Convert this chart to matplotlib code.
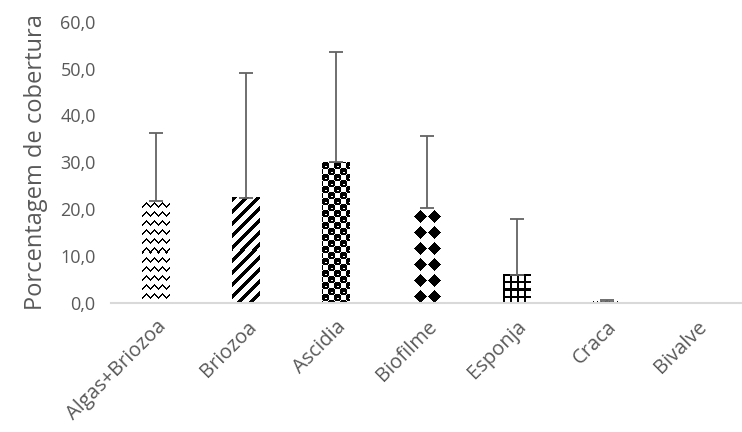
import numpy as np
import matplotlib
matplotlib.use("Agg")
import matplotlib.pyplot as plt

categorias = ["Algas+Briozoa", "Briozoa", "Ascidia", "Biofilme", "Esponja", "Craca", "Bivalve"]
medias = [21.8, 22.5, 30.0, 20.2, 6.0, 0.3, 0.0]
desvios = [14.5, 26.5, 23.5, 15.4, 11.9, 0.4, 0.0]
padroes = ["zigzag", "diagonal", "xadrez", "losango", "grade", "pontos", "pontos"]

cinza = "#595959"
plt.rcParams["font.family"] = ["Open Sans", "DejaVu Sans"]


# padroes de preenchimento (tipo Excel), 0 = preto, 1 = branco
def padrao(nome, h, w):
    yy, xx = np.mgrid[0:h, 0:w]
    img = np.ones((h, w))
    if nome == "zigzag":
        onda = np.abs((xx % 8) - 4)
        fase = (yy % 9) - onda
        img[(fase >= 2) & (fase < 4)] = 0
    elif nome == "diagonal":
        img[((xx + yy) % 12) < 5] = 0
    elif nome == "xadrez":
        # blocos pretos com cantos cortados e um traco branco
        for c in [(3, 3), (9, 9), (-3, 9), (9, -3), (15, 3), (3, 15)]:
            dx = (xx % 12) - c[0]
            dy = (yy % 12) - c[1]
            blob = (np.maximum(np.abs(dx), np.abs(dy)) <= 3.5) & (np.abs(dx) + np.abs(dy) <= 5.5)
            img[blob] = 0
            traco = blob & (dy == 1) & (np.abs(dx - 0.5) <= 1)
            img[traco] = 1
    elif nome == "losango":
        cx = np.abs((xx % 14) - 7)
        cy = np.abs((yy % 16) - 8)
        img[(cx + cy) <= 6.5] = 0
    elif nome == "grade":
        img[((xx % 7) < 2) | ((yy % 7) < 2)] = 0
    else:
        img[(xx % 4 == 0) & (yy % 2 == 0)] = 0
    return img


fig = plt.figure(figsize=(7.42, 4.32), dpi=100)
ax = fig.add_axes([0.1496, 0.2986, 0.8504, 0.6512])

x = np.arange(len(categorias))
barras = ax.bar(x, medias, width=0.31, color="none", edgecolor="none", zorder=2)

ax.errorbar(x, medias, yerr=[np.zeros(len(desvios)), desvios], fmt="none",
            ecolor="#636363", elinewidth=1.3, capsize=5, capthick=1.3, zorder=3)

ax.set_xlim(-0.5, len(categorias) - 0.5)
ax.set_ylim(0, 60)
ax.set_yticks(np.arange(0, 61, 10))
ax.set_yticklabels([f"{v:.1f}".replace(".", ",") for v in np.arange(0, 61, 10)])
ax.set_xticks(x)
ax.set_xticklabels(categorias, rotation=45, ha="right", rotation_mode="anchor")
ax.tick_params(axis="both", length=0, colors=cinza)
ax.tick_params(axis="x", pad=10, labelsize=14.5)
ax.tick_params(axis="y", pad=11, labelsize=13)
ax.set_ylabel("Porcentagem de cobertura", fontsize=17, color=cinza, labelpad=9)

for lado in ["left", "right", "top"]:
    ax.spines[lado].set_visible(False)
ax.spines["bottom"].set_color("#d9d9d9")
ax.spines["bottom"].set_linewidth(1.5)
ax.spines["bottom"].set_zorder(4)

fig.canvas.draw()
for barra, nome in zip(barras, padroes):
    ext = barra.get_window_extent()
    w = int(round(ext.width))
    h = int(round(ext.height))
    if w < 1 or h < 1:
        continue
    bx, by = barra.get_x(), barra.get_y()
    img = padrao(nome, h, w)
    ax.imshow(img, cmap="gray", vmin=0, vmax=1, interpolation="nearest",
              extent=[bx, bx + barra.get_width(), by, by + barra.get_height()],
              origin="upper", aspect="auto", zorder=2, clip_path=barra)

ax.set_xlim(-0.5, len(categorias) - 0.5)
ax.set_ylim(0, 60)

fig.savefig("out.png", dpi=100)
